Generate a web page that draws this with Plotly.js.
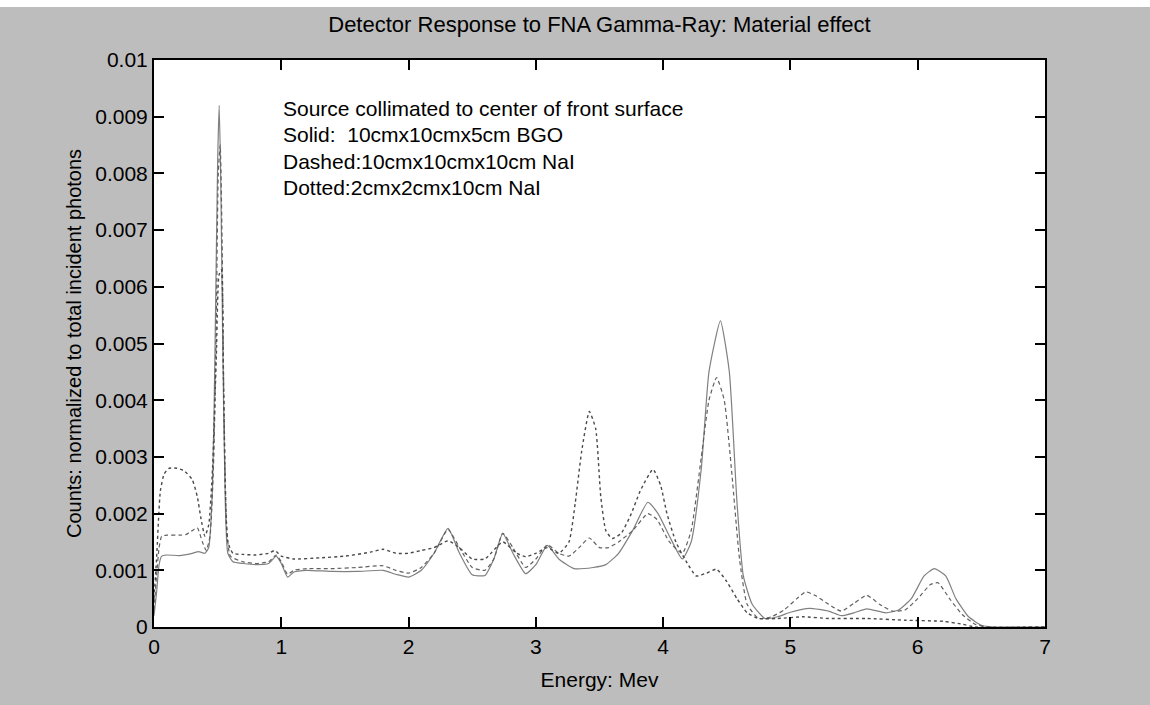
<!DOCTYPE html>
<html>
<head>
<meta charset="utf-8">
<script src="https://cdn.plot.ly/plotly-3.0.1.min.js"></script>
<style>
html,body{margin:0;padding:0;background:#c0c0c0;}
#chart{width:1150px;height:705px;}
</style>
</head>
<body>
<div id="chart"></div>
<script>
// ---- Data ----
const chartTitle = "Detector Response to FNA Gamma-Ray: Material effect";
const xAxisTitle = "Energy: Mev";
const yAxisTitle = "Counts: normalized to total incident photons";
const noteLines = [
  "Source collimated to center of front surface",
  "Solid:  10cmx10cmx5cm BGO",
  "Dashed:10cmx10cmx10cm NaI",
  "Dotted:2cmx2cmx10cm NaI"
];
const noteY = [0.00915, 0.00868, 0.00821, 0.00776];

const xTickVals = [0, 1, 2, 3, 4, 5, 6, 7];
const xTickText = ["0", "1", "2", "3", "4", "5", "6", "7"];
const yTickVals = [0, 0.001, 0.002, 0.003, 0.004, 0.005, 0.006, 0.007, 0.008, 0.009, 0.01];
const yTickText = ["0", "0.001", "0.002", "0.003", "0.004", "0.005", "0.006", "0.007", "0.008", "0.009", "0.01"];

// Solid: 10x10x5 cm BGO
const eSolid = [0, 0.02, 0.04, 0.06, 0.1, 0.2, 0.3, 0.35, 0.4, 0.43, 0.46, 0.48, 0.5, 0.512, 0.525, 0.54, 0.56, 0.58, 0.62, 0.7, 0.8, 0.9, 0.96, 1.0, 1.05, 1.1, 1.2, 1.4, 1.6, 1.8, 1.9, 2.0, 2.1, 2.2, 2.31, 2.4, 2.5, 2.6, 2.67, 2.74, 2.82, 2.92, 3.0, 3.09, 3.18, 3.3, 3.45, 3.55, 3.65, 3.76, 3.88, 3.96, 4.05, 4.15, 4.22, 4.3, 4.36, 4.45, 4.52, 4.58, 4.63, 4.7, 4.8, 4.9, 5.0, 5.15, 5.3, 5.4, 5.5, 5.6, 5.75, 5.85, 5.95, 6.05, 6.13, 6.22, 6.3, 6.4, 6.5, 6.6, 7.0];
const vSolid = [0.0002, 0.0006, 0.0011, 0.00125, 0.00127, 0.00126, 0.0013, 0.00133, 0.0013, 0.0014, 0.0025, 0.005, 0.0082, 0.0092, 0.0078, 0.005, 0.0022, 0.0013, 0.00115, 0.00112, 0.0011, 0.00112, 0.00125, 0.00112, 0.00088, 0.00097, 0.001, 0.00098, 0.00098, 0.001, 0.00093, 0.00088, 0.001, 0.0013, 0.00174, 0.0013, 0.00092, 0.00091, 0.0012, 0.00165, 0.0013, 0.00094, 0.0011, 0.00144, 0.0012, 0.00103, 0.00105, 0.0011, 0.0013, 0.0017, 0.0022, 0.002, 0.0016, 0.0012, 0.0015, 0.0028, 0.0045, 0.0054, 0.0045, 0.0022, 0.0009, 0.0004, 0.00015, 0.00018, 0.00026, 0.00033, 0.00028, 0.0002, 0.00025, 0.00032, 0.00025, 0.0003, 0.0005, 0.0009, 0.00103, 0.0009, 0.0005, 0.00018, 0.00003, 0, 0];

// Dashed: 10x10x10 cm NaI
const eDashed = [0, 0.02, 0.04, 0.06, 0.1, 0.2, 0.25, 0.3, 0.34, 0.38, 0.41, 0.44, 0.47, 0.49, 0.505, 0.52, 0.535, 0.55, 0.57, 0.6, 0.7, 0.8, 0.9, 0.96, 1.0, 1.05, 1.1, 1.2, 1.4, 1.6, 1.8, 1.9, 2.0, 2.1, 2.2, 2.31, 2.4, 2.5, 2.6, 2.67, 2.74, 2.82, 2.92, 3.0, 3.09, 3.18, 3.26, 3.34, 3.42, 3.5, 3.57, 3.65, 3.76, 3.88, 3.95, 4.05, 4.15, 4.22, 4.3, 4.36, 4.42, 4.48, 4.54, 4.6, 4.66, 4.75, 4.85, 4.95, 5.05, 5.12, 5.2, 5.3, 5.4, 5.5, 5.6, 5.7, 5.8, 5.9, 6.0, 6.1, 6.16, 6.25, 6.35, 6.45, 6.55, 7.0];
const vDashed = [0.0003, 0.0009, 0.0014, 0.0016, 0.00162, 0.00162, 0.00163, 0.0017, 0.00175, 0.0015, 0.00135, 0.0016, 0.003, 0.0055, 0.008, 0.0085, 0.0068, 0.0038, 0.0018, 0.00125, 0.00115, 0.00112, 0.00115, 0.00127, 0.00115, 0.00093, 0.001, 0.00103, 0.00103, 0.00105, 0.00108, 0.001, 0.00095, 0.00105, 0.0013, 0.00172, 0.0014, 0.00105, 0.001, 0.0012, 0.00165, 0.0014, 0.00105, 0.0012, 0.00145, 0.0013, 0.00125, 0.0014, 0.00157, 0.0014, 0.0014, 0.0015, 0.0017, 0.002, 0.0019, 0.0015, 0.0013, 0.0017, 0.003, 0.004, 0.0044, 0.004, 0.0027, 0.0012, 0.0004, 0.00015, 0.00018, 0.0003, 0.0005, 0.00062, 0.00055, 0.0004, 0.00028, 0.00042, 0.00056, 0.0004, 0.00028, 0.0003, 0.0005, 0.00075, 0.00078, 0.0005, 0.00022, 0.00005, 0, 0];

// Dotted: 2x2x10 cm NaI
const eDotted = [0, 0.02, 0.05, 0.08, 0.12, 0.18, 0.24, 0.3, 0.34, 0.37, 0.4, 0.43, 0.46, 0.49, 0.51, 0.53, 0.545, 0.56, 0.58, 0.62, 0.7, 0.8, 0.9, 0.95, 1.0, 1.1, 1.3, 1.5, 1.7, 1.8, 1.9, 2.0, 2.1, 2.2, 2.31, 2.4, 2.5, 2.6, 2.74, 2.85, 2.92, 3.0, 3.09, 3.18, 3.26, 3.31, 3.36, 3.42, 3.47, 3.51, 3.55, 3.6, 3.67, 3.75, 3.82, 3.92, 3.98, 4.03, 4.1, 4.17, 4.26, 4.34, 4.42, 4.5, 4.58, 4.66, 4.75, 4.9, 5.1, 5.3, 5.6, 5.9, 6.2, 6.35, 6.45, 7.0];
const vDotted = [0.0005, 0.0012, 0.0024, 0.0027, 0.0028, 0.0028, 0.00275, 0.0026, 0.0023, 0.0019, 0.0016, 0.0018, 0.0028, 0.0048, 0.0062, 0.0063, 0.0045, 0.0025, 0.0015, 0.0013, 0.00128, 0.00127, 0.0013, 0.00135, 0.00125, 0.0012, 0.00122, 0.00125, 0.00132, 0.00137, 0.0013, 0.0013, 0.00135, 0.0014, 0.00152, 0.0014, 0.0012, 0.0012, 0.0015, 0.0013, 0.00124, 0.0013, 0.0014, 0.0013, 0.0015, 0.0022, 0.0031, 0.0038, 0.0035, 0.0023, 0.0017, 0.00156, 0.00165, 0.002, 0.0024, 0.00278, 0.0025, 0.002, 0.0015, 0.0012, 0.0009, 0.00095, 0.00102, 0.0008, 0.0005, 0.00025, 0.00015, 0.00015, 0.00018, 0.00015, 0.00015, 0.00012, 0.0001, 0.00005, 0, 0];

// ---- Plot ----
const font = "Liberation Sans, Arial, Helvetica, sans-serif";
const traces = [
  {x: eSolid, y: vSolid, name: "Solid", mode: "lines",
   line: {color: "#808080", width: 1.2, shape: "spline", smoothing: 0.5}},
  {x: eDashed, y: vDashed, name: "Dashed", mode: "lines",
   line: {color: "#606060", width: 1.2, dash: "4px,3px", shape: "spline", smoothing: 0.5}},
  {x: eDotted, y: vDotted, name: "Dotted", mode: "lines",
   line: {color: "#4a4a4a", width: 1.4, dash: "dot", shape: "spline", smoothing: 0.5}}
];

const annotations = noteLines.map((t, i) => ({
  x: 1.0, y: noteY[i], xref: "x", yref: "y", text: t, showarrow: false,
  xanchor: "left", yanchor: "middle", font: {family: font, size: 21, color: "#000"}
}));

const layout = {
  width: 1150, height: 705,
  paper_bgcolor: "#bdbdbd", plot_bgcolor: "#ffffff",
  margin: {l: 154, r: 105, t: 60, b: 78},
  showlegend: false,
  title: {text: chartTitle, font: {family: font, size: 22, color: "#000"},
          x: 0.5, xref: "paper", y: 0.965, yref: "container", yanchor: "middle"},
  xaxis: {range: [0, 7], tickvals: xTickVals, ticktext: xTickText,
          ticks: "inside", ticklen: 10, tickwidth: 2, tickcolor: "#000",
          showline: true, linewidth: 2, linecolor: "#000", mirror: "ticks",
          showgrid: false, zeroline: false,
          tickfont: {family: font, size: 21, color: "#000"},
          title: {text: xAxisTitle, font: {family: font, size: 21, color: "#000"}, standoff: 15}},
  yaxis: {range: [0, 0.01], tickvals: yTickVals, ticktext: yTickText,
          ticks: "inside", ticklen: 10, tickwidth: 2, tickcolor: "#000",
          showline: true, linewidth: 2, linecolor: "#000", mirror: "ticks",
          showgrid: false, zeroline: false,
          tickfont: {family: font, size: 21, color: "#000"},
          title: {text: yAxisTitle, font: {family: font, size: 20, color: "#000"}, standoff: 8}},
  annotations: annotations,
  shapes: [{type: "rect", xref: "paper", yref: "paper", x0: -0.2, x1: 1.2,
            y0: (627 - 7) / 567, y1: 627 / 567, fillcolor: "#ffffff",
            line: {width: 0}, layer: "below"}]
};

Plotly.newPlot("chart", traces, layout, {displayModeBar: false, staticPlot: true});
</script>
</body>
</html>
